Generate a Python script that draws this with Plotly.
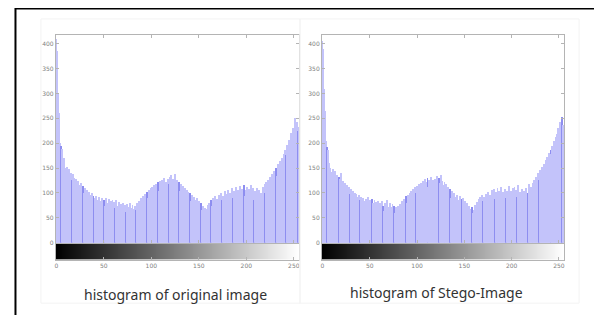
import plotly.graph_objects as go

W, H = 602, 315
OFF = 8  # page body margin that shifts the figure

bins = list(range(256))

orig_counts = [
    410, 385, 300, 262, 200, 195, 188, 158, 170, 150,
    145, 152, 136, 148, 132, 140, 126, 138, 122, 130,
    118, 128, 112, 124, 116, 108, 120, 104, 114, 100,
    110, 96, 106, 92, 102, 96, 88, 100, 84, 94,
    90, 82, 94, 86, 78, 92, 84, 76, 90, 80,
    86, 74, 90, 80, 72, 88, 78, 84, 68, 86,
    76, 82, 70, 86, 74, 64, 82, 72, 78, 66,
    80, 70, 76, 62, 78, 72, 66, 80, 70, 64,
    76, 68, 62, 74, 66, 80, 70, 84, 74, 90,
    78, 94, 82, 98, 86, 102, 90, 106, 94, 110,
    96, 112, 102, 116, 100, 118, 106, 122, 104, 124,
    112, 126, 108, 130, 116, 122, 110, 128, 118, 132,
    114, 136, 120, 128, 112, 138, 118, 126, 108, 122,
    104, 118, 100, 114, 96, 110, 92, 106, 98, 102,
    88, 100, 84, 96, 80, 92, 86, 78, 90, 76,
    84, 72, 80, 66, 74, 62, 70, 58, 68, 76,
    64, 80, 70, 86, 74, 90, 78, 94, 80, 88,
    84, 96, 78, 100, 86, 94, 82, 104, 88, 98,
    92, 106, 86, 100, 94, 110, 90, 104, 96, 112,
    88, 106, 98, 114, 92, 108, 100, 116, 94, 106,
    98, 112, 90, 108, 102, 116, 94, 110, 86, 104,
    96, 110, 88, 106, 92, 100, 84, 112, 96, 118,
    100, 122, 106, 126, 110, 132, 114, 138, 120, 144,
    126, 150, 134, 158, 140, 164, 148, 170, 160, 178,
    168, 186, 176, 196, 184, 206, 196, 222, 210, 232,
    226, 252, 238, 244, 226, 234,
]

stego_counts = [
    405, 390, 310, 265, 205, 192, 186, 160, 150, 142,
    138, 148, 134, 144, 126, 136, 122, 132, 118, 128,
    140, 114, 124, 108, 120, 104, 116, 100, 112, 98,
    108, 94, 104, 90, 100, 86, 98, 92, 84, 96,
    86, 92, 80, 90, 84, 76, 88, 82, 92, 78,
    86, 74, 88, 80, 70, 86, 76, 82, 66, 84,
    72, 80, 68, 84, 74, 64, 80, 70, 86, 72,
    66, 80, 72, 62, 78, 68, 74, 60, 72, 66,
    74, 64, 78, 70, 84, 72, 88, 76, 94, 80,
    96, 84, 100, 88, 104, 92, 108, 96, 112, 100,
    114, 98, 118, 104, 120, 108, 124, 112, 128, 110,
    122, 130, 112, 126, 116, 132, 118, 126, 110, 128,
    114, 134, 118, 130, 120, 136, 124, 116, 110, 122,
    104, 118, 98, 112, 94, 108, 90, 104, 86, 100,
    92, 82, 96, 86, 78, 94, 84, 88, 74, 90,
    78, 84, 70, 80, 64, 74, 68, 56, 72, 60,
    66, 76, 70, 82, 72, 88, 78, 92, 80, 96,
    84, 92, 80, 98, 86, 102, 88, 96, 84, 106,
    92, 108, 88, 102, 96, 110, 90, 104, 98, 112,
    86, 102, 94, 108, 90, 104, 98, 114, 92, 104,
    96, 110, 88, 112, 100, 106, 92, 116, 96, 102,
    88, 108, 94, 104, 86, 110, 96, 100, 118, 102,
    112, 98, 120, 108, 126, 112, 132, 118, 140, 126,
    146, 132, 152, 140, 158, 146, 166, 172, 164, 180,
    174, 186, 178, 194, 188, 204, 196, 214, 220, 232,
    228, 244, 236, 254, 238, 230,
]

y_ticks = [0, 50, 100, 150, 200, 250, 300, 350, 400]
x_ticks = [0, 50, 100, 150, 200, 250]
titles = ["histogram of original image", "histogram of Stego-Image"]

LIGHT = "#c3c3fa"
DARK = "#8e8ef0"


def colors(period, offset):
    dark = {round(offset + period * k) for k in range(30)}
    return [DARK if i in dark else LIGHT for i in bins]


def px(x):
    return (x - OFF) / W


def py(y):
    return 1 - (y - OFF) / H


fig = go.Figure()

panels = [
    dict(counts=orig_counts, x0=55, x1=299, cper=11.3, coff=5, tx=175, ty=297),
    dict(counts=stego_counts, x0=322, x1=565, cper=11.8, coff=5, tx=437, ty=295),
]

frame = dict(showline=True, linecolor="#b4b4b4", linewidth=1, mirror="ticks",
             ticks="inside", ticklen=3, tickcolor="#b4b4b4", showgrid=False,
             zeroline=False, tickfont=dict(family="DejaVu Sans", size=6, color="#808080"))

for k, p in enumerate(panels):
    n = 2 * k + 1
    hx = "x" if n == 1 else f"x{n}"
    hy = "y" if n == 1 else f"y{n}"
    cx = f"x{n+1}"
    cy = f"y{n+1}"
    fig.add_trace(go.Bar(x=bins, y=p["counts"], xaxis=hx, yaxis=hy,
                         marker=dict(color=colors(p["cper"], p["coff"]), line=dict(width=0)),
                         showlegend=False, hoverinfo="skip"))
    fig.add_trace(go.Heatmap(z=[bins], x=bins, y=[0], xaxis=cx, yaxis=cy,
                             colorscale=[[0, "#000000"], [1, "#ffffff"]],
                             showscale=False, hoverinfo="skip"))
    dom = [px(p["x0"]), px(p["x1"])]
    hxa = "xaxis" if n == 1 else f"xaxis{n}"
    hya = "yaxis" if n == 1 else f"yaxis{n}"
    fig.update_layout(**{
        hxa: dict(frame, domain=dom, range=[-0.5, 255.5], anchor=hy,
                  tickvals=x_ticks, showticklabels=False),
        hya: dict(frame, domain=[py(245), py(35)], range=[0, 418], anchor=hx,
                  tickvals=y_ticks),
        f"xaxis{n+1}": dict(frame, domain=dom, range=[-0.5, 255.5], anchor=cy,
                            tickvals=x_ticks, mirror=True),
        f"yaxis{n+1}": dict(frame, domain=[py(262), py(246)], range=[-0.5, 0.5],
                            anchor=cx, showticklabels=False, ticks="", mirror=True),
    })
    fig.add_annotation(text=titles[k], xref="paper", yref="paper",
                       x=px(p["tx"]), y=py(p["ty"]), xanchor="center", yanchor="middle",
                       showarrow=False,
                       font=dict(family="Noto Sans", size=14, color="#333"))

# faint frames of pasted pictures
fig.add_shape(type="rect", xref="paper", yref="paper", x0=px(40), x1=px(300),
              y0=py(306), y1=py(19), line=dict(color="#f3f3f3", width=1))
fig.add_shape(type="rect", xref="paper", yref="paper", x0=px(300), x1=px(580),
              y0=py(306), y1=py(19), line=dict(color="#f3f3f3", width=1))
# outer black border (top and left)
fig.add_shape(type="line", xref="paper", yref="paper", x0=px(14), x1=1,
              y0=py(8.5), y1=py(8.5), line=dict(color="black", width=2))
fig.add_shape(type="line", xref="paper", yref="paper", x0=px(14.5), x1=px(14.5),
              y0=py(8), y1=0, line=dict(color="black", width=2))

fig.update_layout(width=W, height=H, margin=dict(l=0, r=0, t=0, b=0),
                  paper_bgcolor="white", plot_bgcolor="white", bargap=0,
                  showlegend=False)

fig.write_html("out.html")
